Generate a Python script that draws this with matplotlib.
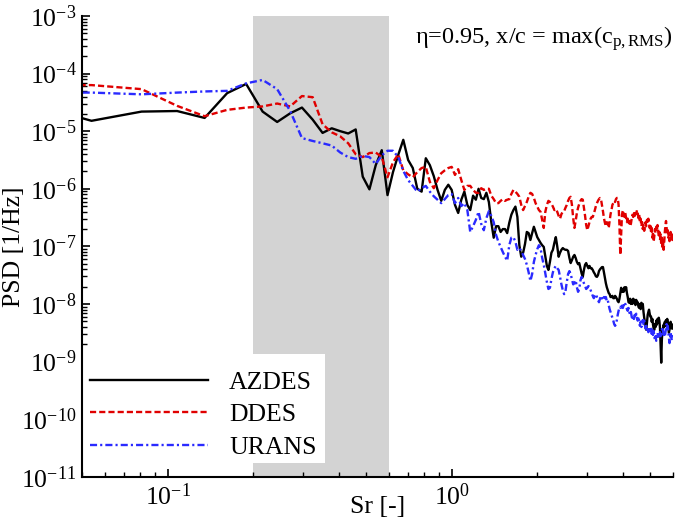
import numpy as np
import matplotlib
matplotlib.use("Agg")
import matplotlib.pyplot as plt
from matplotlib.ticker import LogLocator, NullFormatter, FixedLocator, LogFormatterSciNotation
from matplotlib.patches import Rectangle

plt.rcParams['font.family'] = ['Liberation Serif', 'DejaVu Serif']
plt.rcParams['mathtext.fontset'] = 'custom'
plt.rcParams['mathtext.rm'] = 'Liberation Serif'
plt.rcParams['mathtext.it'] = 'Liberation Serif:italic'

# Strouhal frequency bins (uniform spectral resolution)
sr_step = 0.027
n_bins = 222

# log10 of PSD [1/Hz], one value per bin
azdes_log10 = [
    -4.40, -4.82, -4.66, -4.65, -4.77, -4.34, -4.18, -4.66, -4.84, -4.69,
    -4.59, -4.80, -5.03, -4.95, -5.00, -5.04, -4.97, -5.79, -6.01, -5.59,
    -5.33, -6.11, -5.71, -5.41, -5.15, -5.50, -5.64, -6.00, -6.05, -5.47,
    -5.59, -5.78, -6.02, -6.21, -6.02, -5.93, -6.02, -6.28, -6.42, -6.19,
    -6.05, -6.28, -6.37, -6.12, -6.19, -6.00, -6.16, -6.18, -6.07, -6.23,
    -6.58, -6.85, -6.65, -6.65, -6.75, -6.70, -6.70, -6.77, -6.59, -6.45,
    -6.37, -6.31, -6.49, -6.98, -7.18, -7.11, -6.96, -6.75, -6.77, -6.89,
    -6.77, -6.66, -6.75, -6.84, -6.89, -6.94, -6.98, -7.01, -7.18, -7.34,
    -7.41, -7.27, -7.11, -7.06, -6.94, -6.84, -7.00, -7.18, -7.11, -7.06,
    -7.03, -7.05, -7.06, -7.06, -7.08, -7.20, -7.29, -7.24, -7.18, -7.15,
    -7.20, -7.27, -7.31, -7.29, -7.38, -7.47, -7.53, -7.41, -7.32, -7.29,
    -7.34, -7.38, -7.34, -7.38, -7.38, -7.41, -7.45, -7.48, -7.52, -7.53,
    -7.50, -7.43, -7.40, -7.38, -7.36, -7.36, -7.45, -7.55, -7.64, -7.71,
    -7.76, -7.81, -7.83, -7.88, -7.88, -7.86, -7.90, -7.90, -7.86, -7.88,
    -7.91, -7.95, -7.97, -7.91, -7.81, -7.72, -7.79, -7.74, -7.79, -7.71,
    -7.76, -7.71, -7.81, -7.88, -7.97, -7.98, -7.91, -8.00, -7.93, -8.00,
    -7.91, -7.98, -7.93, -8.02, -7.93, -8.00, -7.97, -8.05, -8.07, -8.00,
    -8.09, -7.98, -8.05, -8.00, -8.14, -8.24, -8.31, -8.40, -8.45, -8.31,
    -8.19, -8.14, -8.10, -8.17, -8.22, -8.22, -8.31, -8.26, -8.36, -8.43,
    -8.45, -8.35, -8.40, -8.29, -8.36, -8.26, -8.33, -8.24, -8.29, -8.42,
    -8.71, -9.02, -8.63, -8.45, -8.42, -8.36, -8.40, -8.31, -8.38, -8.28,
    -8.35, -8.26, -8.31, -8.42, -8.50, -8.45, -8.38, -8.31, -8.42, -8.35,
    -8.43, -8.38,
]

ddes_log10 = [
    -4.20, -4.20, -4.27, -4.56, -4.74, -4.63, -4.59, -4.57, -4.52, -4.57,
    -4.39, -4.41, -4.88, -5.02, -5.09, -5.21, -5.40, -5.45, -5.38, -5.37,
    -5.45, -5.80, -5.54, -5.40, -5.68, -5.75, -5.80, -5.71, -5.64, -5.62,
    -5.88, -5.99, -5.85, -5.73, -5.68, -5.64, -5.62, -5.76, -5.66, -5.85,
    -6.02, -5.95, -5.95, -6.02, -6.07, -6.07, -5.99, -6.02, -6.00, -6.00,
    -6.12, -6.18, -6.25, -6.25, -6.21, -6.18, -6.21, -6.19, -6.18, -6.09,
    -6.02, -6.05, -6.09, -6.14, -6.28, -6.37, -6.30, -6.23, -6.14, -6.07,
    -6.09, -6.16, -6.25, -6.31, -6.37, -6.40, -6.54, -6.68, -6.40, -6.28,
    -6.21, -6.23, -6.26, -6.31, -6.37, -6.35, -6.40, -6.47, -6.52, -6.44,
    -6.40, -6.39, -6.33, -6.28, -6.21, -6.16, -6.14, -6.28, -6.51, -6.68,
    -6.56, -6.42, -6.33, -6.26, -6.21, -6.18, -6.19, -6.33, -6.47, -6.63,
    -6.72, -6.65, -6.58, -6.52, -6.49, -6.49, -6.44, -6.37, -6.30, -6.25,
    -6.21, -6.18, -6.16, -6.18, -6.28, -6.39, -6.51, -6.59, -6.65, -6.58,
    -6.61, -6.68, -6.56, -6.44, -6.37, -6.28, -6.25, -6.21, -6.23, -6.18,
    -6.16, -6.16, -6.28, -6.63, -7.15, -6.80, -6.45, -6.37, -6.44, -6.49,
    -6.42, -6.51, -6.58, -6.52, -6.61, -6.56, -6.65, -6.61, -6.52, -6.45,
    -6.49, -6.40, -6.47, -6.39, -6.44, -6.37, -6.42, -6.51, -6.45, -6.58,
    -6.52, -6.65, -6.58, -6.70, -6.63, -6.73, -6.66, -6.58, -6.65, -6.54,
    -6.61, -6.52, -6.59, -6.68, -6.61, -6.75, -6.68, -6.85, -6.75, -6.92,
    -6.82, -6.70, -6.77, -6.66, -6.73, -6.63, -6.72, -6.82, -6.75, -6.89,
    -6.79, -6.96, -6.85, -7.01, -6.89, -7.06, -6.92, -6.75, -6.63, -6.56,
    -6.68, -6.79, -6.72, -6.85, -6.77, -6.91, -6.82, -6.75, -6.85, -6.79,
    -6.89, -6.82,
]

urans_log10 = [
    -4.33, -4.33, -4.36, -4.33, -4.31, -4.30, -4.17, -4.11, -4.27, -4.65,
    -5.12, -5.17, -5.21, -5.25, -5.37, -5.45, -5.48, -5.43, -5.45, -5.57,
    -5.42, -5.34, -5.34, -5.45, -5.69, -5.85, -5.95, -6.05, -5.99, -5.95,
    -6.05, -6.13, -6.19, -6.25, -6.18, -6.11, -6.09, -6.25, -6.16, -6.30,
    -6.25, -6.37, -6.75, -6.65, -6.54, -6.40, -6.61, -6.72, -6.51, -6.39,
    -6.47, -6.58, -6.80, -6.92, -7.01, -7.10, -7.18, -7.25, -6.98, -6.85,
    -6.84, -6.92, -7.06, -7.03, -7.08, -7.15, -7.22, -7.32, -7.45, -7.60,
    -7.48, -7.27, -7.15, -7.05, -6.98, -7.03, -7.20, -7.32, -7.47, -7.62,
    -7.74, -7.72, -7.57, -7.45, -7.38, -7.34, -7.38, -7.41, -7.53, -7.66,
    -7.76, -7.83, -7.78, -7.62, -7.48, -7.43, -7.48, -7.57, -7.66, -7.64,
    -7.59, -7.71, -7.79, -7.74, -7.59, -7.53, -7.59, -7.64, -7.69, -7.74,
    -7.72, -7.69, -7.71, -7.76, -7.81, -7.86, -7.90, -7.86, -7.83, -7.88,
    -7.93, -7.97, -7.91, -7.86, -7.90, -7.93, -7.88, -7.90, -7.88, -7.95,
    -7.93, -8.02, -8.09, -8.14, -8.19, -8.24, -8.29, -8.35, -8.38, -8.35,
    -8.28, -8.19, -8.12, -8.07, -8.05, -8.09, -8.03, -8.07, -8.02, -8.05,
    -8.00, -8.03, -8.09, -8.12, -8.07, -8.14, -8.19, -8.14, -8.22, -8.28,
    -8.21, -8.26, -8.19, -8.24, -8.17, -8.24, -8.29, -8.22, -8.31, -8.38,
    -8.31, -8.40, -8.33, -8.28, -8.35, -8.29, -8.36, -8.43, -8.38, -8.45,
    -8.40, -8.49, -8.42, -8.47, -8.40, -8.45, -8.52, -8.45, -8.54, -8.47,
    -8.56, -8.63, -8.56, -8.64, -8.57, -8.50, -8.57, -8.50, -8.56, -8.49,
    -8.56, -8.50, -8.45, -8.40, -8.47, -8.54, -8.49, -8.57, -8.50, -8.42,
    -8.35, -8.42, -8.38, -8.49, -8.59, -8.68, -8.59, -8.50, -8.56, -8.63,
    -8.54, -8.59,
]

series_labels = ["AZDES", "DDES", "URANS"]
band_sr = [0.2, 0.6]
x_ticks = [0.1, 1.0]
y_ticks = [1e-11, 1e-10, 1e-9, 1e-8, 1e-7, 1e-6, 1e-5, 1e-4, 1e-3]
annotation = r"η=0.95, x/c = max(c$_{\mathrm{p,RMS}}$)"

sr = sr_step * np.arange(1, n_bins + 1)
azdes = 10.0 ** np.array(azdes_log10)
ddes = 10.0 ** np.array(ddes_log10)
urans = 10.0 ** np.array(urans_log10)

fig = plt.figure(figsize=(6.85, 5.2), dpi=100)
ax = fig.add_axes([82 / 685, 1 - 476.7 / 520, (673 - 82) / 685, (476.7 - 16) / 520])

ax.axvspan(band_sr[0], band_sr[1], color="#d3d3d3", lw=0, zorder=0)

fs = 18.5
ax.plot(sr, azdes, color="black", lw=1.7, label=series_labels[0], zorder=2)
ax.plot(sr, ddes, color="#e00000", lw=1.7, dashes=(2.6, 1.3), label=series_labels[1], zorder=2)
ax.plot(sr, urans, color="#2a2aff", lw=1.7, dashes=(3.0, 1.3, 0.9, 1.3), label=series_labels[2], zorder=2)

ax.set_xscale("log")
ax.set_yscale("log")
ax.set_xlim(0.05, 6.0)
ax.set_ylim(1e-11, 1e-3)

ax.spines["top"].set_visible(False)
ax.spines["right"].set_visible(False)
for s in ("left", "bottom"):
    ax.spines[s].set_linewidth(1.5)

ax.yaxis.set_major_locator(FixedLocator(y_ticks))
ax.yaxis.set_major_formatter(LogFormatterSciNotation())
ax.yaxis.set_minor_locator(LogLocator(base=10, subs=np.arange(2, 10), numticks=100))
ax.yaxis.set_minor_formatter(NullFormatter())
ax.xaxis.set_major_locator(FixedLocator(x_ticks))
ax.xaxis.set_major_formatter(LogFormatterSciNotation())
ax.xaxis.set_minor_locator(LogLocator(base=10, subs=np.arange(2, 10), numticks=100))
ax.xaxis.set_minor_formatter(NullFormatter())

ax.tick_params(which="major", direction="in", length=6, width=1.2, labelsize=fs)
ax.tick_params(which="minor", direction="in", length=3.3, width=1.0)
ax.tick_params(axis="y", which="major", pad=4)
ax.tick_params(axis="x", which="major", pad=5)

ax.set_xlabel("Sr [-]", fontsize=fs)
ax.xaxis.set_label_coords(0.5, -0.042)
ax.set_ylabel("PSD [1/Hz]", fontsize=fs)
ax.yaxis.set_label_coords(-0.097, 0.5)

ax.text(1.0, 0.94, annotation, transform=ax.transAxes, ha="right", va="baseline", fontsize=17.5)

# white legend panel
ax.add_patch(Rectangle((0.0025, 0.0297), 0.408, 0.2366, transform=ax.transAxes,
                       facecolor="white", edgecolor="none", zorder=2.3))
leg = ax.legend(loc="center left", bbox_to_anchor=(0.0135, 0.134), borderaxespad=0,
                borderpad=0, fontsize=fs, handlelength=4.6, handletextpad=0.82,
                labelspacing=0.36, frameon=False)
leg.set_zorder(2.4)

fig.savefig("out.png", dpi=100)
